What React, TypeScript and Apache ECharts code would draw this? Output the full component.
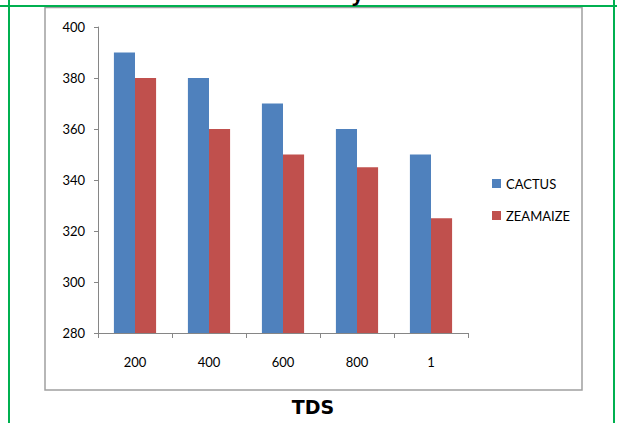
import React, { useEffect, useRef } from "react";
import * as echarts from "echarts";

const categories = ["200", "400", "600", "800", "1"];
const cactus = [390, 380, 370, 360, 350];
const zeamaize = [380, 360, 350, 345, 325];
const yTicks = { min: 280, max: 400, interval: 20 };

const FONT = "Lato, sans-serif";

export default function App() {
  const ref = useRef<HTMLDivElement>(null);

  useEffect(() => {
    if (!ref.current) return;
    const chart = echarts.init(ref.current, null, { renderer: "svg" });
    chart.setOption({
      animation: false,
      backgroundColor: "#ffffff",
      grid: { left: 98, right: 149, top: 27, bottom: 90 },
      legend: {
        orient: "vertical",
        left: 487,
        top: 172,
        itemWidth: 9,
        itemHeight: 9,
        itemGap: 19,
        icon: "rect",
        textStyle: { fontFamily: FONT, fontSize: 13, color: "#000" },
        data: ["CACTUS", "ZEAMAIZE"],
      },
      xAxis: {
        type: "category",
        data: categories,
        axisLine: { lineStyle: { color: "#868686", width: 1 } },
        axisTick: { show: true, length: 5, alignWithLabel: false, lineStyle: { color: "#868686" } },
        axisLabel: { fontFamily: FONT, fontSize: 13, color: "#000", margin: 22 },
        splitLine: { show: false },
      },
      yAxis: {
        type: "value",
        min: yTicks.min,
        max: yTicks.max,
        interval: yTicks.interval,
        axisLine: { show: true, lineStyle: { color: "#868686", width: 1 } },
        axisTick: { show: true, length: 4, lineStyle: { color: "#868686" } },
        axisLabel: { fontFamily: FONT, fontSize: 13, color: "#000", margin: 13 },
        splitLine: { show: false },
      },
      series: [
        {
          name: "CACTUS",
          type: "bar",
          data: cactus,
          itemStyle: { color: "#4f81bd" },
          barGap: "0%",
          barCategoryGap: "43%",
        },
        {
          name: "ZEAMAIZE",
          type: "bar",
          data: zeamaize,
          itemStyle: { color: "#c0504d" },
          barGap: "0%",
          barCategoryGap: "43%",
        },
      ],
      graphic: [
        {
          type: "rect",
          shape: { x: 45, y: 7.5, width: 537, height: 382.5 },
          style: { fill: "none", stroke: "#a0a0a0", lineWidth: 1.5 },
          z: -1,
        },
        {
          type: "line",
          shape: { x1: 0, y1: 6, x2: 617, y2: 6 },
          style: { stroke: "#00b050", lineWidth: 2 },
        },
        {
          type: "line",
          shape: { x1: 9, y1: 0, x2: 9, y2: 423 },
          style: { stroke: "#00b050", lineWidth: 2 },
        },
        {
          type: "line",
          shape: { x1: 614, y1: 0, x2: 614, y2: 423 },
          style: { stroke: "#00b050", lineWidth: 2 },
        },
        {
          type: "text",
          x: 352,
          y: -17,
          style: {
            text: "y",
            fontFamily: "'Open Sans', sans-serif",
            fontWeight: "bold",
            fontSize: 20,
            fill: "#000",
            textVerticalAlign: "top",
          },
        },
        {
          type: "text",
          x: 313,
          y: 407,
          style: {
            text: "TDS",
            fontFamily: "'DejaVu Sans', sans-serif",
            fontWeight: "bold",
            fontSize: 19,
            fill: "#000",
            textAlign: "center",
            textVerticalAlign: "middle",
          },
        },
      ],
    });
    return () => chart.dispose();
  }, []);

  return (
    <div
      ref={ref}
      style={{ position: "fixed", left: 0, top: 0, width: 617, height: 423 }}
    />
  );
}
